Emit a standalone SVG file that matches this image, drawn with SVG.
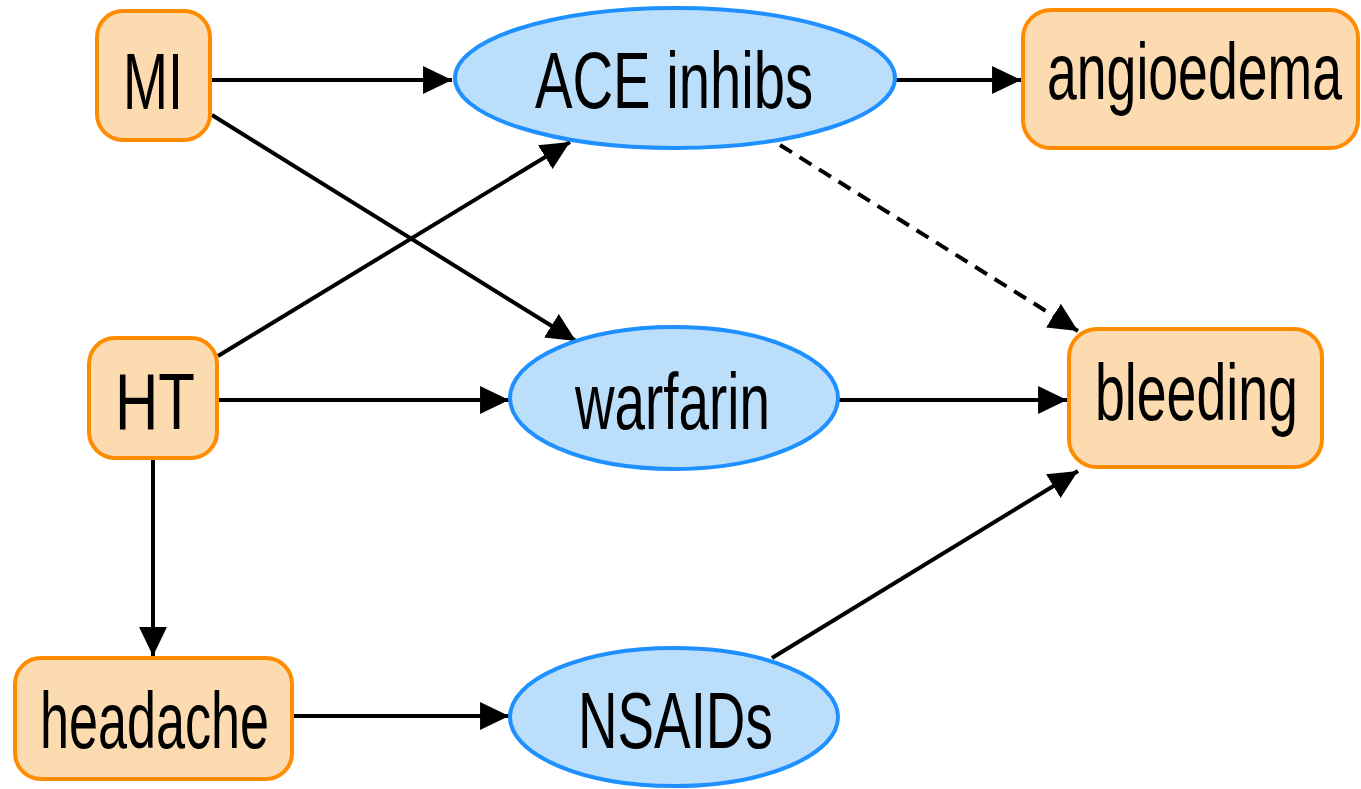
<svg xmlns="http://www.w3.org/2000/svg" width="1361" height="789" viewBox="0 0 1361 789">
<style>
.box{fill:#FDDBB0;stroke:#FF8C00;stroke-width:4}
.ell{fill:#BBDEFB;stroke:#1E90FF;stroke-width:4}
.lbl{font-family:"Liberation Sans",Arial,sans-serif;font-size:80px;fill:#000}
.edge{stroke:#000;stroke-width:4;fill:none;marker-end:url(#ah)}
.dash{stroke-dasharray:14 9}
</style>
<defs>
<marker id="ah" markerUnits="userSpaceOnUse" markerWidth="30" markerHeight="30" viewBox="0 0 28 28" refX="27" refY="14" orient="auto">
<path d="M0,1 L27,14 L0,27 Z" fill="#000"/>
</marker>
</defs>
<rect width="1361" height="789" fill="#fff"/>
<g id="edges">
<line class="edge" x1="212" y1="80" x2="452" y2="80"/>
<line class="edge" x1="212" y1="115" x2="576" y2="341"/>
<line class="edge" x1="218" y1="356" x2="570" y2="142"/>
<line class="edge" x1="218" y1="400" x2="509" y2="400"/>
<line class="edge" x1="153" y1="460" x2="153" y2="656"/>
<line class="edge" x1="293" y1="716" x2="509" y2="716"/>
<line class="edge" x1="896" y1="80" x2="1021" y2="80"/>
<line class="edge dash" x1="780" y1="145" x2="1078" y2="331"/>
<line class="edge" x1="838" y1="400" x2="1067" y2="400"/>
<line class="edge" x1="772" y1="658" x2="1078" y2="471"/>
</g>
<g id="MI">
<rect class="box" x="97" y="11" width="113" height="129" rx="26"/>
<text class="lbl" transform="translate(123,109) scale(0.675,1)">MI</text>
</g>
<g id="HT">
<rect class="box" x="89" y="338" width="128" height="120" rx="26"/>
<text class="lbl" transform="translate(115,429) scale(0.75,1)">HT</text>
</g>
<g id="headache">
<rect class="box" x="15" y="658" width="277" height="121" rx="26"/>
<text class="lbl" transform="translate(40,748) scale(0.652,1)">headache</text>
</g>
<g id="ACE">
<ellipse class="ell" cx="675" cy="78" rx="220" ry="70"/>
<text class="lbl" transform="translate(535,108) scale(0.703,1)">ACE inhibs</text>
</g>
<g id="warfarin">
<ellipse class="ell" cx="674" cy="398" rx="164" ry="71"/>
<text class="lbl" transform="translate(575,429) scale(0.685,1)">warfarin</text>
</g>
<g id="NSAIDs">
<ellipse class="ell" cx="674" cy="717" rx="164" ry="69"/>
<text class="lbl" transform="translate(578,748) scale(0.685,1)">NSAIDs</text>
</g>
<g id="angioedema">
<rect class="box" x="1023" y="10" width="335" height="138" rx="28"/>
<text class="lbl" transform="translate(1047,99) scale(0.67,1)">angioedema</text>
</g>
<g id="bleeding">
<rect class="box" x="1069" y="329" width="253" height="138" rx="28"/>
<text class="lbl" transform="translate(1095,420) scale(0.671,1)">bleeding</text>
</g>
</svg>
